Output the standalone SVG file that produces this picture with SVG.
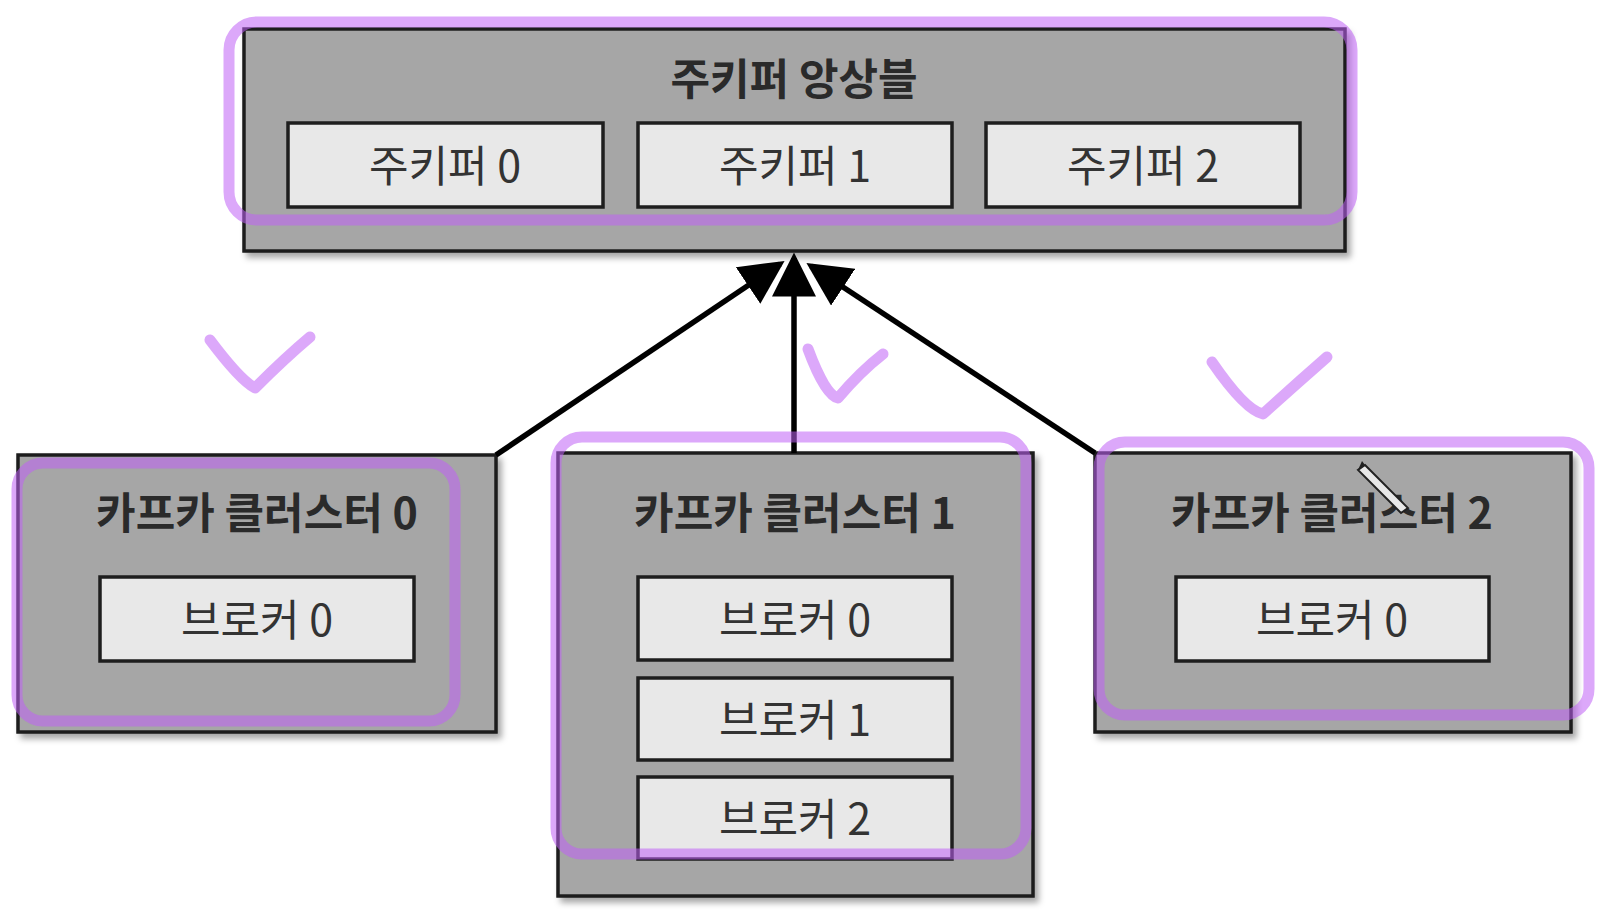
<svg xmlns="http://www.w3.org/2000/svg" width="1610" height="922" viewBox="0 0 1610 922">
<defs>
<filter id="sh" x="-5%" y="-5%" width="115%" height="120%">
<feDropShadow dx="4" dy="5" stdDeviation="3" flood-color="#000" flood-opacity="0.35"/>
</filter>
<marker id="ah" markerWidth="8" markerHeight="8" refX="7" refY="4" orient="auto" markerUnits="strokeWidth" viewBox="0 0 8 8">
<path d="M0,0 L8,4 L0,8 Z" fill="#000"/>
</marker>
<style>
.outer{fill:#a6a6a6;stroke:#1e1e1e;stroke-width:3.5}
.inner{fill:#e8e8e8;stroke:#1e1e1e;stroke-width:3.5}
.title{font-family:"Noto Sans CJK KR","Noto Sans",sans-serif;font-weight:bold;font-size:43px;fill:#2a2a2a;text-anchor:middle;dominant-baseline:central}
.lbl{font-family:"Noto Sans CJK KR","Noto Sans",sans-serif;font-size:43px;fill:#333;text-anchor:middle;dominant-baseline:central}
.conn{stroke:#000;stroke-width:5.5;fill:none;marker-end:url(#ah)}
.hl{fill:none;stroke:#bf61f6;stroke-opacity:0.55;stroke-width:11;stroke-linecap:round;stroke-linejoin:round}
</style>
</defs>
<rect width="1610" height="922" fill="#fff"/>

<g id="ensemble">
<rect class="outer" x="244" y="29" width="1101" height="222" filter="url(#sh)"/>
<text class="title" x="794" y="76">주키퍼 앙상블</text>
<g id="zk0"><rect class="inner" x="288" y="123" width="315" height="84"/><text class="lbl" x="445" y="163">주키퍼 0</text></g>
<g id="zk1"><rect class="inner" x="638" y="123" width="314" height="84"/><text class="lbl" x="795" y="163">주키퍼 1</text></g>
<g id="zk2"><rect class="inner" x="986" y="123" width="314" height="84"/><text class="lbl" x="1143" y="163">주키퍼 2</text></g>
</g>

<g id="cluster0">
<rect class="outer" x="18" y="455" width="478" height="277" filter="url(#sh)"/>
<text class="title" x="257" y="510">카프카 클러스터 0</text>
<g id="c0b0"><rect class="inner" x="100" y="577" width="314" height="84"/><text class="lbl" x="257" y="617">브로커 0</text></g>
</g>

<g id="cluster1">
<rect class="outer" x="558" y="453" width="475" height="443" filter="url(#sh)"/>
<text class="title" x="795" y="510">카프카 클러스터 1</text>
<g id="c1b0"><rect class="inner" x="638" y="577" width="314" height="83"/><text class="lbl" x="795" y="617">브로커 0</text></g>
<g id="c1b1"><rect class="inner" x="638" y="678" width="314" height="82"/><text class="lbl" x="795" y="717">브로커 1</text></g>
<g id="c1b2"><rect class="inner" x="638" y="777" width="314" height="82"/><text class="lbl" x="795" y="816">브로커 2</text></g>
</g>

<g id="cluster2">
<rect class="outer" x="1095" y="453" width="476" height="279" filter="url(#sh)"/>
<text class="title" x="1332" y="510">카프카 클러스터 2</text>
<g id="c2b0"><rect class="inner" x="1176" y="577" width="313" height="84"/><text class="lbl" x="1332" y="617">브로커 0</text></g>
</g>

<g id="connectors">
<line class="conn" x1="496" y1="455" x2="780" y2="264"/>
<line class="conn" x1="794" y1="453" x2="794" y2="258"/>
<line class="conn" x1="1095" y1="453" x2="811" y2="266"/>
</g>

<g id="annotations">
<rect class="hl" x="229" y="22" width="1123" height="198" rx="28"/>
<rect class="hl" x="17" y="463" width="438" height="258" rx="26"/>
<rect class="hl" x="556" y="437" width="470" height="417" rx="26"/>
<rect class="hl" x="1099" y="442" width="490" height="273" rx="26"/>
<path class="hl" d="M210,340 Q240,380 255,388 Q285,358 310,337"/>
<path class="hl" d="M808,349 Q825,395 838,398 Q860,372 883,354"/>
<path class="hl" d="M1212,362 Q1245,410 1263,414 Q1295,385 1327,357"/>
<g id="cursor">
<path d="M1365,465 L1408,508 L1401,513 L1358,470 Z" fill="#e8e8e8" stroke="#222" stroke-width="2"/>
<path d="M1358,470 L1362,461 L1365,465 Z" fill="#222"/>
</g>
</g>
</svg>
